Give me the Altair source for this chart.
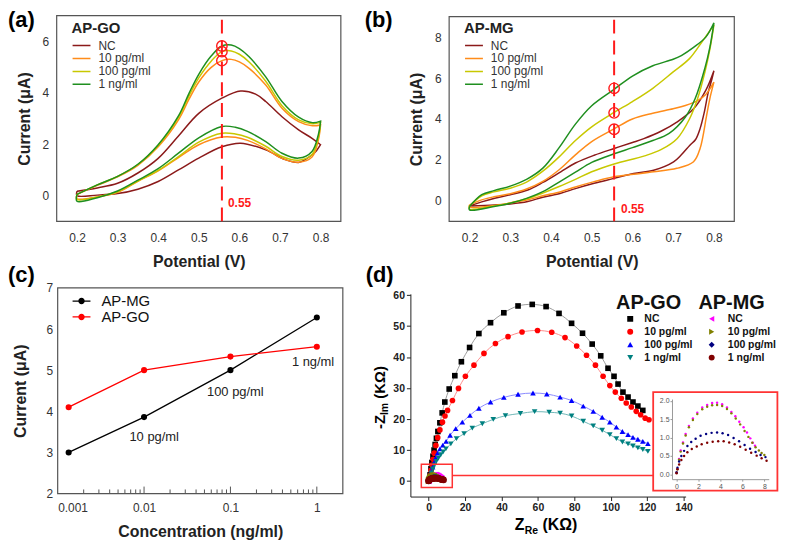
import altair as alt
import pandas as pd

W, H = 776, 532
FONT = 'Liberation Sans'

SERIES = ['NC', '10 pg/ml', '100 pg/ml', '1 ng/ml']
CV_COLORS = ['#8B1A1A', '#FF8C1A', '#C8C800', '#1F8F1F']

# ---------------- (a) AP-GO cyclic voltammograms ----------------
A_NC_UP_V = [0.20, 0.25, 0.30, 0.35, 0.40, 0.45, 0.50, 0.557, 0.603, 0.64, 0.665, 0.705, 0.746, 0.78, 0.80]
A_NC_UP_I = [0.17, 0.30, 0.48, 0.88, 1.45, 2.32, 3.20, 3.79, 4.07, 3.95, 3.66, 3.07, 2.56, 2.22, 1.98]
A_NC_LO_V = [0.80, 0.79, 0.779, 0.76, 0.746, 0.713, 0.665, 0.603, 0.557, 0.50, 0.45, 0.40, 0.35, 0.30, 0.25, 0.20]
A_NC_LO_I = [1.98, 1.75, 1.59, 1.38, 1.29, 1.40, 1.78, 2.04, 1.90, 1.46, 1.00, 0.55, 0.25, 0.08, 0.02, 0.00]
A_UP_V = [0.20, 0.25, 0.30, 0.35, 0.40, 0.45, 0.476, 0.50, 0.53, 0.557, 0.58, 0.60, 0.624, 0.665, 0.705, 0.746, 0.78, 0.80]
A_LO_V = [0.80, 0.795, 0.779, 0.746, 0.705, 0.665, 0.62, 0.59, 0.557, 0.50, 0.45, 0.40, 0.35, 0.30, 0.25, 0.20]
A_10_UP_I = [0.05, 0.40, 0.73, 1.18, 1.90, 2.95, 3.75, 4.42, 4.98, 5.25, 5.30, 5.20, 4.95, 4.30, 3.40, 2.88, 2.72, 2.75]
A_10_LO_I = [2.75, 2.20, 1.50, 1.30, 1.45, 1.82, 2.15, 2.27, 2.28, 1.98, 1.48, 0.96, 0.56, 0.13, -0.05, -0.12]
A_100_UP_I = [0.05, 0.42, 0.75, 1.21, 1.95, 3.04, 3.88, 4.58, 5.22, 5.60, 5.63, 5.50, 5.20, 4.45, 3.50, 2.95, 2.80, 2.85]
A_100_LO_I = [2.85, 2.30, 1.60, 1.38, 1.52, 1.92, 2.27, 2.40, 2.43, 2.08, 1.52, 0.98, 0.57, 0.15, -0.05, -0.15]
A_1N_UP_I = [0.05, 0.42, 0.75, 1.22, 1.98, 3.10, 3.98, 4.72, 5.42, 5.82, 5.86, 5.72, 5.40, 4.62, 3.66, 3.05, 2.84, 2.90]
A_1N_LO_I = [2.90, 2.40, 1.72, 1.46, 1.65, 2.10, 2.50, 2.66, 2.69, 2.25, 1.65, 1.05, 0.60, 0.18, -0.08, -0.22]
A_MARK_V = 0.557
A_MARK_I = [5.25, 5.60, 5.82]

# ---------------- (b) AP-MG cyclic voltammograms ----------------
B_NC_UP_V = [0.20, 0.23, 0.262, 0.30, 0.343, 0.38, 0.424, 0.46, 0.506, 0.555, 0.60, 0.628, 0.67, 0.709, 0.75, 0.78, 0.80]
B_NC_UP_I = [-0.25, -0.05, 0.13, 0.30, 0.53, 0.90, 1.42, 1.85, 2.23, 2.56, 2.85, 3.04, 3.40, 3.85, 4.50, 5.40, 6.36]
B_NC_LO_V = [0.80, 0.793, 0.786, 0.776, 0.766, 0.755, 0.741, 0.72, 0.701, 0.652, 0.603, 0.555, 0.506, 0.46, 0.424, 0.38, 0.343, 0.30, 0.262, 0.20]
B_NC_LO_I = [6.36, 5.80, 5.30, 4.30, 3.53, 3.00, 2.72, 2.25, 1.91, 1.50, 1.34, 1.10, 0.86, 0.60, 0.37, 0.18, -0.03, -0.15, -0.20, -0.25]
B_10_UP_V = [0.20, 0.23, 0.26, 0.30, 0.34, 0.38, 0.42, 0.46, 0.50, 0.555, 0.60, 0.65, 0.70, 0.73, 0.76, 0.78, 0.80]
B_10_UP_I = [-0.20, 0.05, 0.20, 0.35, 0.58, 0.95, 1.52, 2.25, 2.90, 3.52, 4.00, 4.28, 4.50, 4.66, 4.90, 5.20, 5.80]
B_10_LO_V = [0.80, 0.79, 0.782, 0.766, 0.75, 0.709, 0.652, 0.603, 0.555, 0.506, 0.46, 0.424, 0.38, 0.343, 0.30, 0.262, 0.20]
B_10_LO_I = [5.80, 5.00, 4.17, 2.56, 1.91, 1.59, 1.42, 1.30, 1.18, 0.94, 0.68, 0.45, 0.25, 0.05, -0.10, -0.23, -0.30]
B_100_UP_V = [0.20, 0.23, 0.26, 0.30, 0.34, 0.38, 0.42, 0.46, 0.50, 0.555, 0.60, 0.65, 0.70, 0.74, 0.77, 0.80]
B_100_UP_I = [-0.25, 0.25, 0.44, 0.62, 0.92, 1.45, 2.15, 2.95, 3.62, 4.32, 4.85, 5.50, 6.30, 6.95, 7.75, 8.60]
B_100_LO_V = [0.80, 0.79, 0.778, 0.76, 0.74, 0.71, 0.67, 0.63, 0.555, 0.50, 0.46, 0.42, 0.38, 0.34, 0.30, 0.26, 0.20]
B_100_LO_I = [8.60, 7.40, 6.30, 5.00, 4.00, 3.05, 2.50, 2.20, 1.80, 1.42, 1.05, 0.70, 0.38, 0.10, -0.10, -0.25, -0.40]
B_1N_UP_V = [0.20, 0.23, 0.26, 0.30, 0.34, 0.38, 0.42, 0.46, 0.50, 0.555, 0.60, 0.65, 0.70, 0.72, 0.75, 0.78, 0.80]
B_1N_UP_I = [-0.28, 0.30, 0.50, 0.72, 1.05, 1.60, 2.60, 3.75, 4.65, 5.45, 6.10, 6.60, 6.92, 7.10, 7.50, 8.00, 8.70]
B_1N_LO_V = [0.80, 0.79, 0.778, 0.754, 0.73, 0.69, 0.65, 0.60, 0.555, 0.50, 0.46, 0.42, 0.38, 0.34, 0.30, 0.26, 0.20]
B_1N_LO_I = [8.70, 7.50, 6.50, 5.00, 4.10, 3.30, 2.95, 2.60, 2.30, 1.88, 1.40, 0.92, 0.45, 0.12, -0.12, -0.28, -0.44]
B_MARK_V = 0.555
B_MARK_I = [3.50, 4.30, 5.50]

# ---------------- (c) calibration ----------------
C_CONC = [0.00134, 0.01, 0.1, 1]
C_MG = [3.00, 3.86, 5.00, 6.28]
C_GO = [4.10, 5.00, 5.33, 5.57]
C_LABELS = ['10 pg/ml', '100 pg/ml', '1 ng/ml']
C_LABEL_X = [0.0131, 0.114, 0.904]
C_LABEL_Y = [3.38, 4.46, 5.19]
C_MINOR = [0.002, 0.003, 0.004, 0.005, 0.006, 0.007, 0.008, 0.009,
           0.02, 0.03, 0.04, 0.05, 0.06, 0.07, 0.08, 0.09,
           0.2, 0.3, 0.4, 0.5, 0.6, 0.7, 0.8, 0.9]
C_MAJOR = [0.01, 0.1, 1]

# ---------------- (d) Nyquist plots ----------------
GO_NC_X = [0.8, 1.3, 1.8, 2.4, 3.0, 3.6, 4.3, 5.1, 6.2, 7.45, 8.9, 11.3, 14.4, 18.0, 22.5, 27.6, 34.0, 41.3, 49.1, 56.9, 64.5, 71.6, 78.5, 84.5, 89.8, 94.5, 98.5, 101.8, 104.0, 106.7, 109.5, 112.2, 114.9, 117.6]
GO_NC_Y = [2.0, 4.0, 6.0, 8.0, 10.0, 11.8, 13.8, 16.0, 18.8, 22.0, 25.5, 29.7, 34.0, 38.5, 43.1, 47.6, 51.1, 54.3, 56.5, 57.0, 56.3, 54.1, 50.9, 47.7, 44.2, 40.4, 36.4, 33.8, 31.3, 28.7, 27.1, 25.5, 24.2, 22.8]
GO_10_X = [0.8, 1.3, 1.9, 2.5, 3.1, 4.0, 5.0, 6.2, 7.6, 9.0, 10.4, 13.1, 16.4, 20.2, 24.9, 30.4, 36.7, 43.6, 51.3, 59.8, 67.6, 74.9, 81.3, 86.7, 91.6, 95.8, 99.5, 102.5, 105.8, 108.5, 111.3, 114.0, 116.4, 118.9, 121.0]
GO_10_Y = [1.8, 3.5, 5.2, 7.0, 9.0, 11.5, 14.0, 16.5, 19.0, 21.0, 22.8, 26.0, 29.9, 33.8, 37.4, 41.2, 44.4, 46.6, 48.1, 48.6, 48.0, 46.3, 43.6, 40.6, 37.4, 33.8, 30.8, 28.7, 26.7, 25.2, 23.9, 22.5, 21.4, 20.3, 19.8]
GO_100_X = [0.8, 1.5, 2.2, 3.0, 3.9, 4.9, 6.2, 7.8, 9.6, 11.8, 14.9, 18.5, 22.7, 27.6, 34.0, 41.3, 49.1, 57.3, 64.9, 72.2, 78.5, 84.9, 90.4, 95.3, 99.5, 103.1, 106.4, 109.5, 112.2, 114.9, 117.6, 120.4]
GO_100_Y = [1.5, 3.0, 4.5, 6.0, 7.5, 9.0, 10.4, 11.6, 12.8, 14.8, 16.9, 19.0, 21.2, 23.5, 25.5, 27.0, 28.0, 28.4, 28.1, 27.1, 26.0, 24.2, 22.5, 20.6, 19.0, 17.4, 16.0, 15.0, 14.1, 13.5, 12.8, 12.1]
GO_1N_X = [0.8, 1.5, 2.3, 3.2, 4.2, 5.4, 6.7, 8.0, 9.5, 12.2, 15.3, 19.5, 24.0, 29.5, 35.5, 42.2, 50.4, 58.2, 66.2, 72.2, 78.5, 84.9, 90.4, 95.3, 99.5, 103.1, 106.4, 109.5, 112.2, 114.9, 117.6, 120.4]
GO_1N_Y = [1.3, 2.6, 3.9, 5.1, 6.3, 7.4, 8.5, 9.4, 10.4, 12.0, 13.7, 15.3, 17.1, 18.5, 19.9, 21.1, 21.8, 22.4, 22.2, 21.9, 21.0, 19.3, 17.8, 16.4, 15.0, 13.7, 12.6, 12.0, 11.3, 10.7, 10.2, 9.6]

MG_NC_X = [0.02, 0.09, 0.24, 0.39, 0.6, 0.84, 1.14, 1.5, 1.9, 2.35, 2.8, 3.25, 3.7, 4.16, 4.6, 5.0, 5.36, 5.72, 6.11, 6.42, 6.72, 6.95, 7.15]
MG_NC_Y = [0.05, 0.15, 0.42, 0.65, 0.87, 1.10, 1.32, 1.52, 1.68, 1.82, 1.89, 1.94, 1.95, 1.91, 1.82, 1.70, 1.58, 1.43, 1.28, 1.14, 0.98, 0.86, 0.78]
MG_10_X = [0.02, 0.09, 0.24, 0.39, 0.6, 0.84, 1.14, 1.5, 1.9, 2.35, 2.8, 3.25, 3.7, 4.16, 4.6, 5.0, 5.4, 5.8, 6.2, 6.55, 6.9, 7.2, 7.5, 7.75, 8.0]
MG_10_Y = [0.05, 0.14, 0.40, 0.62, 0.84, 1.06, 1.28, 1.48, 1.64, 1.77, 1.84, 1.88, 1.89, 1.86, 1.78, 1.66, 1.52, 1.36, 1.18, 1.02, 0.86, 0.74, 0.65, 0.58, 0.53]
MG_100_X = [0.02, 0.1, 0.25, 0.45, 0.7, 1.0, 1.35, 1.75, 2.2, 2.7, 3.2, 3.7, 4.2, 4.7, 5.2, 5.7, 6.2, 6.7, 7.2, 7.65, 8.1]
MG_100_Y = [0.05, 0.18, 0.35, 0.50, 0.64, 0.77, 0.88, 0.97, 1.05, 1.10, 1.13, 1.14, 1.12, 1.07, 0.99, 0.90, 0.80, 0.70, 0.61, 0.53, 0.47]
MG_1N_X = [0.02, 0.1, 0.25, 0.45, 0.7, 1.0, 1.4, 1.85, 2.3, 2.8, 3.3, 3.8, 4.3, 4.8, 5.3, 5.8, 6.3, 6.8, 7.3, 7.75, 8.2]
MG_1N_Y = [0.03, 0.14, 0.27, 0.39, 0.50, 0.60, 0.69, 0.76, 0.82, 0.86, 0.89, 0.90, 0.90, 0.87, 0.82, 0.75, 0.67, 0.59, 0.51, 0.44, 0.37]

GO_PT_COLORS = ['#000000', '#FF0000', '#0000FF', '#008080']
GO_LN_COLORS = ['#9A9A9A', '#FF8A8A', '#8A8AFF', '#6FB7B7']
GO_SHAPES = ['square', 'circle', 'triangle-up', 'triangle-down']
MG_COLORS = ['#FF00FF', '#808000', '#000080', '#800000']
MG_SHAPES = ['triangle-left', 'triangle-right', 'diamond', 'circle']

# zoom box / inset decoration (in main (d) data units)
D_BOX = dict(x0=[-4], x1=[13], y0=[-2.1], y1=[5.4])
D_LINK = dict(x0=[13], x1=[123.3], y=[1.8])
D_INSET = dict(x0=[123.3], x1=[191.5], y0=[28.7], y1=[-3.1])

# ---------------- helpers ----------------
def loop_df(pieces):
    rows = []
    for s, vu, iu, vl, il in pieces:
        v = vu + vl + [vu[0]]
        c = iu + il + [iu[0]]
        for k, (a, b) in enumerate(zip(v, c)):
            rows.append({'s': s, 'x': a, 'y': b, 'i': k})
    return pd.DataFrame(rows)


def xy_df(pieces):
    rows = []
    for s, xs, ys in pieces:
        for k, (a, b) in enumerate(zip(xs, ys)):
            rows.append({'s': s, 'x': a, 'y': b, 'i': k})
    return pd.DataFrame(rows)


def sc(dom, rng, log=False):
    if log:
        return alt.Scale(type='log', domain=dom, range=rng, nice=False)
    return alt.Scale(domain=dom, range=rng, zero=False, nice=False)


def XY(P, xf='x', yf='y', axes=False):
    return dict(
        x=alt.X(f'{xf}:Q', scale=sc(P['xd'], P['xr'], P.get('log', False)),
                axis=P['xa'] if axes else None),
        y=alt.Y(f'{yf}:Q', scale=sc(P['yd'], P['yr']),
                axis=P['ya'] if axes else None),
    )


def cv_axes(left, bottom, yvals):
    xa = alt.Axis(orient='bottom', offset=-(H - bottom), values=[0.2, 0.3, 0.4, 0.5, 0.6, 0.7, 0.8],
                  format='.1f', domain=False, ticks=False, tickSize=0, grid=False,
                  labelFontSize=12, labelColor='#333', labelPadding=11,
                  title='Potential (V)', titleFontSize=16, titleFontWeight='bold',
                  titleColor='#222', titlePadding=10)
    ya = alt.Axis(orient='left', offset=-left, values=yvals, format='d', domain=False,
                  ticks=False, tickSize=0, grid=False, labelFontSize=12, labelColor='#333',
                  labelPadding=8, title='Current (μA)', titleFontSize=16,
                  titleFontWeight='bold', titleColor='#222', titlePadding=10)
    return xa, ya


def text_layer(t, x, y, size, weight='bold', color='black', align='left', angle=0, baseline='middle'):
    kw = dict(fontSize=size, fontWeight=weight, color=color, align=align, baseline=baseline, text=t)
    if angle:
        kw['angle'] = angle
    return alt.Chart(pd.DataFrame({'t': [t]})).mark_text(**kw).encode(
        x=alt.value(x), y=alt.value(y))


layers = []

# ---------------- panel builder for CV ----------------
def cv_panel(P, df, title, lx, mark_v, mark_i, label_xy, ymax):
    frame = pd.DataFrame({'x0': [P['xd'][0]], 'x1': [P['xd'][1]], 'y0': [P['yd'][0]], 'y1': [P['yd'][1]]})
    out = []
    out.append(alt.Chart(frame).mark_rect(fillOpacity=0, stroke='#555', strokeWidth=1.2).encode(
        **XY(P, 'x0', 'y0', axes=True), x2='x1:Q', y2='y1:Q'))
    out.append(alt.Chart(df).mark_line(strokeWidth=1.5, interpolate='catmull-rom').encode(
        **XY(P), order=alt.Order('i:Q'),
        color=alt.Color('s:N', scale=alt.Scale(domain=SERIES, range=CV_COLORS),
                        legend=alt.Legend(title=title, orient='none', legendX=lx, legendY=11,
                                          symbolType='stroke', symbolSize=324, symbolStrokeWidth=1.5,
                                          clipHeight=12.2, rowPadding=0, labelFontSize=12,
                                          labelColor='#333', labelOffset=7, titleFontSize=15,
                                          titleFontWeight='bold', titleColor='#222',
                                          titlePadding=4, padding=0))))
    rule = pd.DataFrame({'x': [mark_v], 'y0': [P['yd'][0]], 'y1': [ymax]})
    out.append(alt.Chart(rule).mark_rule(color='#FF1A1A', strokeWidth=2, strokeDash=[14, 7]).encode(
        x=XY(P)['x'], y=alt.Y('y0:Q', scale=sc(P['yd'], P['yr']), axis=None), y2='y1:Q'))
    marks = pd.DataFrame({'x': [mark_v] * len(mark_i), 'y': mark_i})
    out.append(alt.Chart(marks).mark_point(shape='circle', size=110, filled=False, color='#FF1A1A',
                                           strokeWidth=1.4, opacity=1).encode(**XY(P)))
    lab = pd.DataFrame({'x': [label_xy[0]], 'y': [label_xy[1]], 't': ['0.55']})
    out.append(alt.Chart(lab).mark_text(color='#FF1A1A', fontWeight='bold', fontSize=12,
                                        align='left', baseline='middle').encode(**XY(P), text='t:N'))
    return out


# ---------------- (a) ----------------
P_A = dict(xd=[0.15, 0.85], xr=[49, 335], yd=[-1, 7], yr=[213, 6])
P_A['xa'], P_A['ya'] = cv_axes(49, 213, [0, 2, 4, 6])
df_a = loop_df([
    ('NC', A_NC_UP_V, A_NC_UP_I, A_NC_LO_V, A_NC_LO_I),
    ('10 pg/ml', A_UP_V, A_10_UP_I, A_LO_V, A_10_LO_I),
    ('100 pg/ml', A_UP_V, A_100_UP_I, A_LO_V, A_100_LO_I),
    ('1 ng/ml', A_UP_V, A_1N_UP_I, A_LO_V, A_1N_LO_I),
])
layers += cv_panel(P_A, df_a, 'AP-GO', 64, A_MARK_V, A_MARK_I, (0.572, -0.3), 7)

# ---------------- (b) ----------------
P_B = dict(xd=[0.15, 0.85], xr=[444, 731], yd=[-1, 9], yr=[213, 7])
P_B['xa'], P_B['ya'] = cv_axes(444, 213, [0, 2, 4, 6, 8])
df_b = loop_df([
    ('NC', B_NC_UP_V, B_NC_UP_I, B_NC_LO_V, B_NC_LO_I),
    ('10 pg/ml', B_10_UP_V, B_10_UP_I, B_10_LO_V, B_10_LO_I),
    ('100 pg/ml', B_100_UP_V, B_100_UP_I, B_100_LO_V, B_100_LO_I),
    ('1 ng/ml', B_1N_UP_V, B_1N_UP_I, B_1N_LO_V, B_1N_LO_I),
])
layers += cv_panel(P_B, df_b, 'AP-MG', 459, B_MARK_V, B_MARK_I, (0.572, -0.42), 9)

# ---------------- (c) ----------------
P_C = dict(xd=[0.001, 2], xr=[50, 337], yd=[2, 7], yr=[487, 280], log=True)
P_C['xa'] = alt.Axis(orient='bottom', offset=-(H - 487), values=[0.001, 0.01, 0.1, 1], format='~g',
                     domain=False, ticks=False, tickSize=0, grid=False, labelFontSize=12,
                     labelColor='#333', labelPadding=9, title='Concentration (ng/ml)',
                     titleFontSize=16, titleFontWeight='bold', titleColor='#222', titlePadding=10)
P_C['ya'] = alt.Axis(orient='left', offset=-50, values=[2, 3, 4, 5, 6, 7], format='d', domain=False,
                     ticks=False, tickSize=0, grid=False, labelFontSize=12, labelColor='#333',
                     labelPadding=5, title='Current (μA)', titleFontSize=16, titleFontWeight='bold',
                     titleColor='#222', titlePadding=18)
frame_c = pd.DataFrame({'x0': [0.001], 'x1': [2], 'y0': [2], 'y1': [7]})
layers.append(alt.Chart(frame_c).mark_rect(fillOpacity=0, stroke='#555', strokeWidth=1.2).encode(
    **XY(P_C, 'x0', 'y0', axes=True), x2='x1:Q', y2='y1:Q'))
ticks_c = pd.DataFrame({'x': C_MINOR + C_MAJOR, 'y0': [2] * (len(C_MINOR) + len(C_MAJOR)),
                        'y1': [2.1] * len(C_MINOR) + [2.17] * len(C_MAJOR)})
layers.append(alt.Chart(ticks_c).mark_rule(color='#555', strokeWidth=1).encode(
    x=XY(P_C)['x'], y=alt.Y('y0:Q', scale=sc(P_C['yd'], P_C['yr']), axis=None), y2='y1:Q'))
df_c = xy_df([('AP-MG', C_CONC, C_MG), ('AP-GO', C_CONC, C_GO)])
C_DOM = ['AP-MG', 'AP-GO']
C_COL = ['#000000', '#FF0000']
layers.append(alt.Chart(df_c).mark_line(strokeWidth=1.3).encode(
    **XY(P_C), order=alt.Order('i:Q'),
    color=alt.Color('s:N', scale=alt.Scale(domain=C_DOM, range=C_COL), legend=None)))
LEG_PATH = ('M-1,-0.07L1,-0.07L1,0.07L-1,0.07Z '
            'M0.36,0A0.36,0.36 0 1,1 -0.36,0A0.36,0.36 0 1,1 0.36,0Z')
layers.append(alt.Chart(df_c).mark_circle(size=38, opacity=1).encode(
    **XY(P_C),
    color=alt.Color('s:N', scale=alt.Scale(domain=C_DOM, range=C_COL), title=None,
                    legend=alt.Legend(orient='none', legendX=64, legendY=287, symbolType=LEG_PATH,
                                      symbolSize=324, clipHeight=12.5, rowPadding=0,
                                      labelFontSize=15, labelColor='#111', labelOffset=10,
                                      padding=0))))
lab_c = pd.DataFrame({'x': C_LABEL_X, 'y': C_LABEL_Y, 't': C_LABELS})
layers.append(alt.Chart(lab_c).mark_text(fontSize=13, color='#222', align='center',
                                         baseline='middle').encode(**XY(P_C), text='t:N'))

# ---------------- (d) ----------------
P_D = dict(xd=[-10, 141.1], xr=[405, 682], yd=[-5, 60.4], yr=[490, 286])
P_D['xa'] = alt.Axis(orient='bottom', offset=-(H - 490), values=list(range(0, 141, 20)), format='d',
                     domain=True, domainColor='#222', ticks=True, tickSize=4, tickColor='#222',
                     grid=False, labelFontSize=10.5, labelFontWeight='bold', labelColor='#222',
                     labelPadding=2, title=None)
P_D['ya'] = alt.Axis(orient='left', offset=-405, values=list(range(0, 61, 10)), format='d',
                     domain=True, domainColor='#222', ticks=True, tickSize=4, tickColor='#222',
                     grid=False, labelFontSize=10.5, labelFontWeight='bold', labelColor='#222',
                     labelPadding=2, title=None)
df_go = xy_df([('NC', GO_NC_X, GO_NC_Y), ('10 pg/ml', GO_10_X, GO_10_Y),
               ('100 pg/ml', GO_100_X, GO_100_Y), ('1 ng/ml', GO_1N_X, GO_1N_Y)])
df_mg = xy_df([('NC', MG_NC_X, MG_NC_Y), ('10 pg/ml', MG_10_X, MG_10_Y),
               ('100 pg/ml', MG_100_X, MG_100_Y), ('1 ng/ml', MG_1N_X, MG_1N_Y)])

layers.append(alt.Chart(df_go).mark_line(strokeWidth=1, interpolate='catmull-rom').encode(
    **XY(P_D, axes=True), order=alt.Order('i:Q'),
    color=alt.Color('s:N', scale=alt.Scale(domain=SERIES, range=GO_LN_COLORS), legend=None)))


def dleg(title, lx, so, lo):
    return alt.Legend(title=title, orient='none', legendX=lx, legendY=285, symbolSize=36,
                      symbolOffset=so, clipHeight=12.3, rowPadding=0, labelFontSize=10.5,
                      labelFontWeight='bold', labelColor='#111', labelOffset=lo,
                      titleFontSize=20, titleFontWeight='bold', titleColor='#111',
                      titlePadding=0, padding=0)


leg_go = dleg('AP-GO', 612, 9, 9)
layers.append(alt.Chart(df_go).mark_point(filled=True, size=32, opacity=1).encode(
    **XY(P_D),
    color=alt.Color('s:N', scale=alt.Scale(domain=SERIES, range=GO_PT_COLORS), legend=leg_go),
    shape=alt.Shape('s:N', scale=alt.Scale(domain=SERIES, range=GO_SHAPES), legend=leg_go)))
leg_mg = dleg('AP-MG', 695, 8, 11)
layers.append(alt.Chart(df_mg).mark_point(filled=True, size=45, opacity=1).encode(
    **XY(P_D),
    color=alt.Color('s:N', scale=alt.Scale(domain=SERIES, range=MG_COLORS), legend=leg_mg),
    shape=alt.Shape('s:N', scale=alt.Scale(domain=SERIES, range=MG_SHAPES), legend=leg_mg)))

layers.append(alt.Chart(pd.DataFrame(D_BOX)).mark_rect(fillOpacity=0, stroke='#FF3333', strokeWidth=1.5).encode(
    **XY(P_D, 'x0', 'y0'), x2='x1:Q', y2='y1:Q'))
layers.append(alt.Chart(pd.DataFrame(D_LINK)).mark_rule(color='#FF3333', strokeWidth=1.5).encode(
    x=XY(P_D, 'x0')['x'], x2='x1:Q', y=XY(P_D)['y']))
layers.append(alt.Chart(pd.DataFrame(D_INSET)).mark_rect(fillOpacity=0, stroke='#FF3333', strokeWidth=1.8).encode(
    **XY(P_D, 'x0', 'y0'), x2='x1:Q', y2='y1:Q'))

# inset
P_I = dict(xd=[-0.4, 8.4], xr=[668.3, 765.7], yd=[-0.13, 2.05], yr=[472.5, 391.85])
P_I['xa'] = alt.Axis(orient='bottom', offset=-(H - 472.5), values=[0, 2, 4, 6, 8], format='d',
                     domain=True, domainColor='#999', ticks=True, tickSize=2, tickColor='#999',
                     grid=False, labelFontSize=7, labelColor='#555', labelPadding=1, title=None)
P_I['ya'] = alt.Axis(orient='left', offset=-668.3, values=[0, 0.5, 1, 1.5, 2], format='.1f',
                     domain=True, domainColor='#999', ticks=True, tickSize=2, tickColor='#999',
                     grid=False, labelFontSize=7, labelColor='#555', labelPadding=1, title=None)
layers.append(alt.Chart(df_mg).mark_circle(size=6, opacity=1).encode(
    **XY(P_I, axes=True),
    color=alt.Color('s:N', scale=alt.Scale(domain=SERIES, range=MG_COLORS), legend=None)))

# ---------------- titles / panel labels ----------------
layers.append(text_layer('Z', 510, 524, 16, baseline='alphabetic'))
layers.append(text_layer('Re', 520, 527.5, 10.5, baseline='alphabetic'))
layers.append(text_layer('(KΩ)', 538, 524, 16, baseline='alphabetic'))
layers.append(text_layer('-Z', 379, 422, 15, angle=270, baseline='alphabetic'))
layers.append(text_layer('Im', 382.5, 408, 10.5, angle=270, baseline='alphabetic'))
layers.append(text_layer('(KΩ)', 379, 391.5, 15, angle=270, baseline='alphabetic'))
layers.append(text_layer('(a)', 0, 10, 22))
layers.append(text_layer('(b)', 359, 10, 22))
layers.append(text_layer('(c)', 0, 267, 22))
layers.append(text_layer('(d)', 360, 267, 22))

chart = alt.layer(*layers).resolve_scale(
    x='independent', y='independent', color='independent', shape='independent'
).resolve_axis(
    x='independent', y='independent'
).resolve_legend(
    color='independent', shape='independent'
).properties(
    width=W, height=H, padding=0, autosize=alt.AutoSizeParams(type='none')
).configure(font=FONT).configure_view(strokeWidth=0)

chart.save('out.html', embed_options={'renderer': 'svg', 'actions': False})
